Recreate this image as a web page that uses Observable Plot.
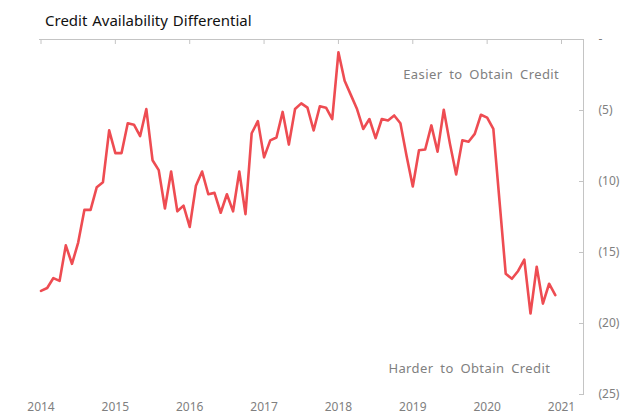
<!DOCTYPE html>
<html><head><meta charset="utf-8">
<script src="https://cdn.jsdelivr.net/npm/d3@7"></script>
<script src="https://cdn.jsdelivr.net/npm/@observablehq/plot@0.6"></script>
<style>
body{margin:0;background:#fff;}
#wrap{position:relative;width:640px;height:418px;}
#title{position:absolute;left:45px;top:10px;font-family:"Noto Sans",sans-serif;font-size:15px;color:#111;white-space:nowrap;word-spacing:1px;}
g[aria-label="text"] text{letter-spacing:0.4px;word-spacing:3px;}
</style></head><body>
<div id="wrap"><div id="title">Credit Availability Differential</div></div>
<script>
// Monthly values (Jan..Dec) per year
const years = [2014, 2015, 2016, 2017, 2018, 2019, 2020];
const v2014 = [-17.7, -17.5, -16.8, -17.0, -14.5, -15.8, -14.3, -12.0, -12.0, -10.4, -10.05, -6.4];
const v2015 = [-8.0, -8.0, -5.9, -6.0, -6.8, -4.9, -8.5, -9.2, -11.9, -9.3, -12.1, -11.7];
const v2016 = [-13.2, -10.3, -9.3, -10.9, -10.8, -12.2, -10.9, -12.1, -9.3, -12.3, -6.6, -5.75];
const v2017 = [-8.3, -7.1, -6.9, -5.1, -7.4, -4.9, -4.5, -4.8, -6.4, -4.7, -4.8, -5.6];
const v2018 = [-0.9, -2.9, -3.9, -4.9, -6.3, -5.6, -6.95, -5.6, -5.7, -5.35, -5.9, -8.2];
const v2019 = [-10.35, -7.8, -7.75, -6.05, -7.9, -4.95, -7.35, -9.5, -7.1, -7.2, -6.65, -5.3];
const v2020 = [-5.5, -6.3, -11.4, -16.5, -16.85, -16.3, -15.5, -19.3, -16.0, -18.6, -17.2, -18.0];
const series = [v2014, v2015, v2016, v2017, v2018, v2019, v2020];

const yearTicks = [2014, 2015, 2016, 2017, 2018, 2019, 2020, 2021];
const yTicks = [0, -5, -10, -15, -20, -25];
const noteText = ["Easier to Obtain Credit", "Harder to Obtain Credit"];
const noteX = [2019.92, 2019.76];
const noteY = [-2.46, -23.2];

const data = [];
years.forEach((yr, i) => series[i].forEach((v, m) => data.push({t: yr + m / 12, v})));
const notes = noteText.map((text, i) => ({text, x: noteX[i], y: noteY[i]}));

const chart = Plot.plot({
  width: 640, height: 418,
  marginTop: 39, marginBottom: 24, marginLeft: 39, marginRight: 57,
  x: {type: "linear", domain: [2014, 2021], range: [40.5, 561], axis: null},
  y: {domain: [-25, 0], range: [394, 39], axis: null},
  style: {fontFamily: "'Noto Sans', sans-serif", fontSize: "12px", background: "#fff", color: "#808080"},
  marks: [
    Plot.ruleY([0], {stroke: "#c4c4c4"}),
    Plot.frame({anchor: "right", stroke: "#c4c4c4"}),
    Plot.ruleX(yearTicks, {x: d => d, stroke: "#c4c4c4", insetBottom: 350}),
    Plot.ruleY(yTicks, {y: d => d, stroke: "#c4c4c4", insetLeft: 540}),
    Plot.axisX({ticks: yearTicks, anchor: "bottom", tickSize: 0, tickPadding: 8, tickFormat: d => String(d), label: null, color: "#808080"}),
    Plot.axisY({ticks: yTicks, anchor: "right", tickSize: 0, tickPadding: 15, tickFormat: d => d === 0 ? "-" : `(${-d})`, label: null, color: "#808080"}),
    Plot.line(data, {x: "t", y: "v", stroke: "#ee4c52", strokeWidth: 2.6}),
    Plot.text(notes, {x: "x", y: "y", text: "text", fill: "#808080", fontSize: 13})
  ]
});
document.getElementById("wrap").prepend(chart);
</script>
</body></html>
